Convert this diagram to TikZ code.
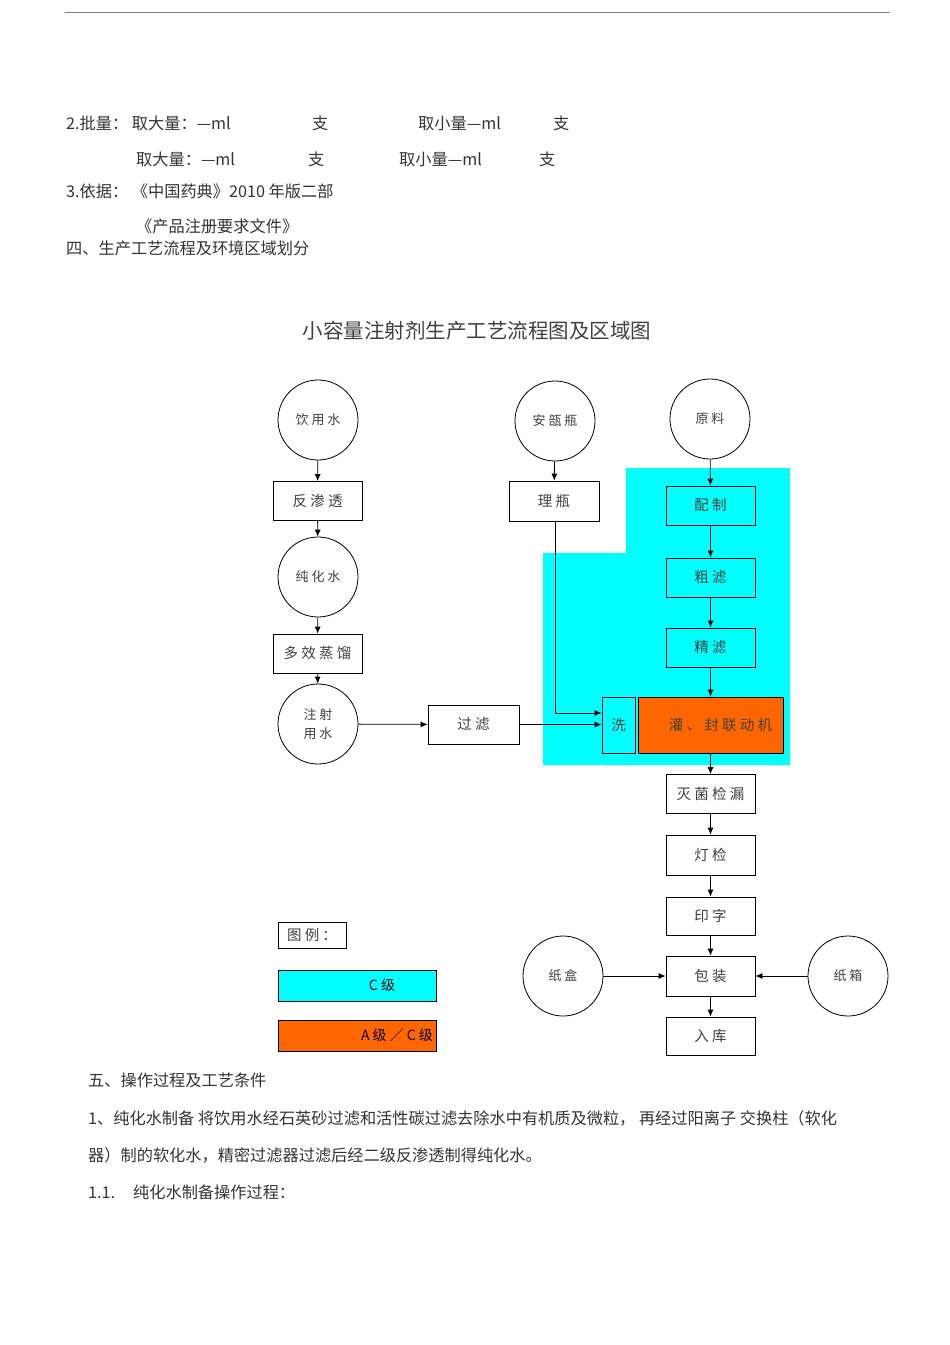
\documentclass[tikz,border=0pt]{standalone}
\usepackage{fontspec}
\setmainfont{Liberation Sans}
\newfontfamily\cjk{Noto Sans CJK SC}
\usetikzlibrary{arrows.meta}
\definecolor{zc}{RGB}{0,255,255}
\definecolor{za}{RGB}{255,102,0}
\begin{document}
\begin{tikzpicture}[x=1pt,y=-1pt,
  circ/.style={draw,thick,circle,minimum size=80pt,inner sep=0pt,font=\cjk\fontsize{13}{15}\selectfont,text=black!75},
  bx/.style={draw,thick,minimum width=89pt,minimum height=39pt,inner sep=0pt,font=\cjk\fontsize{14.5}{16}\selectfont,text=black!75},
  arr/.style={thick,-{Latex[length=7pt,width=6pt]}},
  txt/.style={anchor=west,inner sep=0pt,font=\cjk\fontsize{16.2}{18}\selectfont,text=black!80}]
\useasboundingbox (0,0) rectangle (950,1345);
\coordinate (l1) at (65,12); \coordinate (l2) at (890,12);
\draw[black!50] (l1) -- (l2);
% header texts
\node[txt] (t1) at (66,123) {2.批量： 取大量：—ml};
\node[txt] (t1b) at (312,123) {支};
\node[txt] (t1c) at (418,123) {取小量—ml};
\node[txt] (t1d) at (553,123) {支};
\node[txt] (t2) at (136,159) {取大量：—ml};
\node[txt] (t2b) at (308,159) {支};
\node[txt] (t2c) at (399,159) {取小量—ml};
\node[txt] (t2d) at (539,159) {支};
\node[txt] (t3) at (66,191) {3.依据： 《中国药典》2010 年版二部};
\node[txt] (t4) at (136,226) {《产品注册要求文件》};
\node[txt] (t5) at (66,248) {四、生产工艺流程及环境区域划分};
\node[font=\cjk\fontsize{20.5}{24}\selectfont,text=black!75] (title) at (477,331) {小容量注射剂生产工艺流程图及区域图};
% zones
\fill[zc] (626,468) -- (790,468) -- (790,765) -- (543,765) -- (543,553) -- (626,553) -- cycle;
% left column
\node[circ] (c1) at (318,420) {饮 用 水};
\node[bx] (b1) at (317.5,501) {反 渗 透};
\node[circ] (c2) at (318,577) {纯 化 水};
\node[bx] (b2) at (317.5,653.5) {多 效 蒸 馏};
\node[circ,align=center,font=\cjk\fontsize{13}{19}\selectfont] (c3) at (318,724) {注 射\\用 水};
\node[bx,minimum width=91pt] (b3) at (473.5,724.5) {过 滤};
% middle
\node[circ] (c4) at (555,421) {安 瓿 瓶};
\node[bx,minimum width=90pt,minimum height=40pt] (b4) at (554,501) {理 瓶};
% right
\node[circ] (c5) at (710,419) {原 料};
\node[bx] (r1) at (710.5,505.5) {配 制};
\node[bx] (r2) at (710.5,577.5) {粗 滤};
\node[bx] (r3) at (710.5,647.5) {精 滤};
\node[bx,minimum width=33pt,minimum height=56pt] (w) at (618.5,725) {洗};
\node[bx,fill=za,minimum width=145pt,minimum height=56pt] (g) at (710.5,725) {\hspace{20pt}灌 、 封 联 动 机};
\node[bx] (r4) at (710.5,794) {灭 菌 检 漏};
\node[bx,minimum height=40pt] (r5) at (710.5,855) {灯 检};
\node[bx,minimum height=38pt] (r6) at (710.5,916) {印 字};
\node[bx,minimum height=40pt] (r7) at (710.5,976) {包 装};
\node[bx,minimum height=38pt] (r8) at (710.5,1036) {入 库};
\node[circ] (c6) at (563,976) {纸 盒};
\node[circ] (c7) at (848,976) {纸 箱};
% legend
\node[draw,thick,minimum width=68pt,minimum height=26pt,inner sep=0pt,font=\cjk\fontsize{14.5}{16}\selectfont,text=black!75] (lg) at (312,935) {图 例 ：};
\node[draw,thick,fill=zc,minimum width=158pt,minimum height=31pt,inner sep=0pt,font=\cjk\fontsize{14}{15}\selectfont] (lc) at (357,985.5) {\hspace{50pt}C 级};
\node[draw,thick,fill=za,minimum width=158pt,minimum height=31pt,inner sep=0pt,font=\cjk\fontsize{14}{15}\selectfont] (la) at (357,1035.5) {\hspace{80pt}A 级 ／ C 级};
% arrows
\draw[arr] (c1) -- (b1);
\draw[arr] (b1) -- (c2);
\draw[arr] (c2) -- (b2);
\draw[arr] (b2) -- (c3);
\draw[arr] (c3) -- (b3);
\draw[arr] (b3) -- (b3 -| w.west);
\draw[arr] (c4) -- (b4);
\coordinate (k) at (555,713);
\draw[arr] (b4.south -| k) -- (k) -- (k -| w.west);
\draw[arr] (c5) -- (r1);
\draw[arr] (r1) -- (r2);
\draw[arr] (r2) -- (r3);
\draw[arr] (r3) -- (r3 |- g.north);
\draw[arr] (g.south -| r4) -- (r4);
\draw[arr] (r4) -- (r5);
\draw[arr] (r5) -- (r6);
\draw[arr] (r6) -- (r7);
\draw[arr] (r7) -- (r8);
\draw[arr] (c6) -- (r7);
\draw[arr] (c7) -- (r7);
% bottom text
\node[txt] (s1) at (88,1080) {五、操作过程及工艺条件};
\node[txt] (s2) at (88,1118) {1、纯化水制备 将饮用水经石英砂过滤和活性碳过滤去除水中有机质及微粒， 再经过阳离子 交换柱（软化};
\node[txt] (s3) at (88,1155) {器）制的软化水，精密过滤器过滤后经二级反渗透制得纯化水。};
\node[txt] (s4) at (88,1192) {1.1.\hspace{18pt}纯化水制备操作过程：};
\end{tikzpicture}
\end{document}
